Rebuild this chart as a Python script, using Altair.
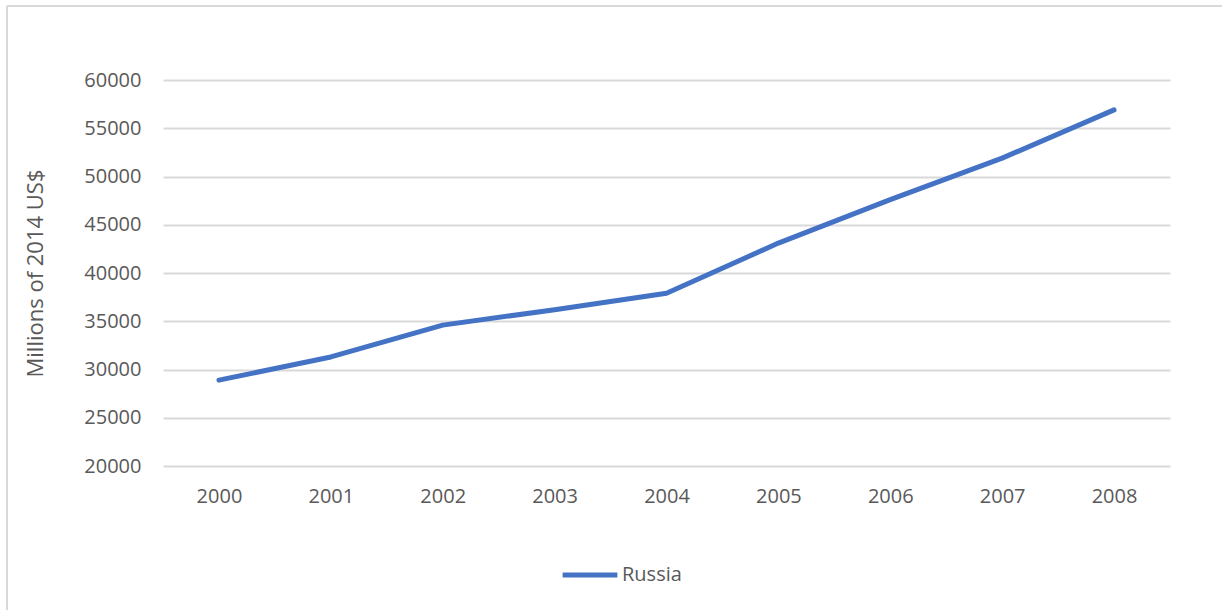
import altair as alt
import pandas as pd

# Russia, millions of 2014 US$
years = ["2000", "2001", "2002", "2003", "2004", "2005", "2006", "2007", "2008"]
russia = [28900, 31300, 34600, 36200, 37900, 43100, 47600, 51900, 56900]
y_ticks = [20000, 25000, 30000, 35000, 40000, 45000, 50000, 55000, 60000]

df = pd.DataFrame({"Year": years, "Value": russia, "Country": ["Russia"] * len(years)})

FONT = "Open Sans"
TEXT = "#595959"
GRID = "#d9d9d9"
BLUE = "#4472c4"

PLOT_W, PLOT_H = 1007, 386
PAD_L, PAD_T = 163, 80

line = alt.Chart(df).mark_line(strokeWidth=5, strokeCap="round", strokeJoin="round").encode(
    x=alt.X(
        "Year:O",
        sort=years,
        scale=alt.Scale(type="point", padding=0.5),
        axis=alt.Axis(
            title=None, labelAngle=0, labelFont=FONT, labelFontSize=20, labelColor=TEXT,
            labelPadding=20, ticks=False, domain=False, grid=False,
        ),
    ),
    y=alt.Y(
        "Value:Q",
        scale=alt.Scale(domain=[20000, 60000], nice=False),
        axis=alt.Axis(
            values=y_ticks, format="d", title="Millions of 2014 US$",
            titleFont=FONT, titleFontSize=22, titleFontWeight="normal", titleColor=TEXT,
            titlePadding=36, labelFont=FONT, labelFontSize=20, labelColor=TEXT,
            labelPadding=22, ticks=False, domain=False, grid=True, gridColor=GRID,
            gridWidth=2,
        ),
    ),
    color=alt.Color(
        "Country:N",
        scale=alt.Scale(range=[BLUE]),
        legend=alt.Legend(
            title=None, orient="none", legendX=397, legendY=465,
            symbolType="stroke", symbolSize=3000, symbolStrokeWidth=5,
            labelFont=FONT, labelFontSize=20, labelColor=TEXT, labelOffset=2,
        ),
    ),
)

# Thin frame along the top and left edges of the chart area
frame_top = alt.Chart(df).mark_rule(color=GRID, strokeWidth=2).encode(
    x=alt.value(-PAD_L + 7), x2=alt.value(PLOT_W + 60), y=alt.value(-PAD_T + 6)
)
frame_left = alt.Chart(df).mark_rule(color=GRID, strokeWidth=2).encode(
    x=alt.value(-PAD_L + 7), y=alt.value(-PAD_T + 6), y2=alt.value(PLOT_H + 150)
)

chart = (
    alt.layer(frame_top, frame_left, line)
    .properties(
        width=PLOT_W, height=PLOT_H,
        padding={"left": PAD_L, "top": PAD_T, "right": 52, "bottom": 144},
        autosize=alt.AutoSizeParams(type="none"),
        background="white",
    )
    .configure_view(stroke=None)
)

chart.save("out.html", embed_options={"renderer": "svg", "actions": False})
